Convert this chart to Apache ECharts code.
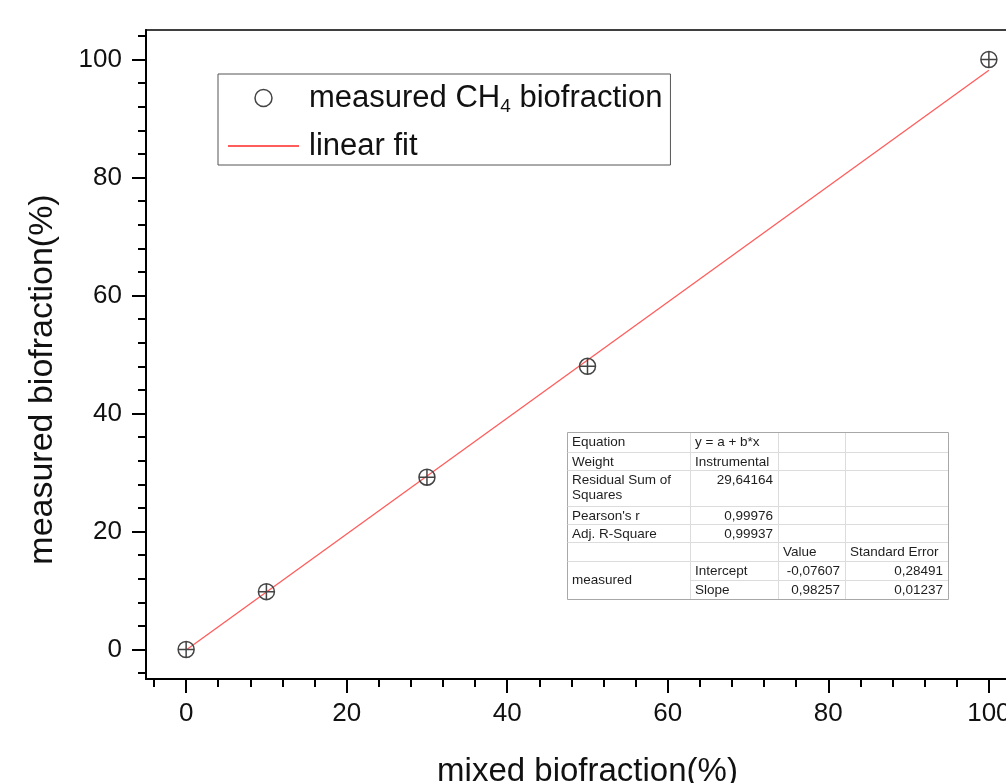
<!DOCTYPE html>
<html>
<head>
<meta charset="utf-8">
<script src="https://cdn.jsdelivr.net/npm/echarts@6/dist/echarts.min.js"></script>
<style>
  html, body { margin: 0; padding: 0; background: #fff; }
  #chart { width: 1006px; height: 783px; }
</style>
</head>
<body>
<div id="chart"></div>
<script>
// measured points (mixed %, measured %)
var measuredPoints = [[0, 0], [10, 9.8], [30, 29.2], [50, 48], [100, 100]];
// fit line end points
var fitPoints = [[0, -0.08], [100, 98.18]];

var majorTicks = [0, 20, 40, 60, 80, 100];
var minorTicks = [-4, 4, 8, 12, 16, 24, 28, 32, 36, 44, 48, 52, 56, 64, 68, 72, 76, 84, 88, 92, 96, 104];

var tableRows = [
    ['Equation', 'y = a + b*x', '', ''],
    ['Weight', 'Instrumental', '', ''],
    ['Residual Sum of\nSquares', '29,64164', '', ''],
    ["Pearson's r", '0,99976', '', ''],
    ['Adj. R-Square', '0,99937', '', ''],
    ['', '', 'Value', 'Standard Error'],
    ['measured', 'Intercept', '-0,07607', '0,28491'],
    ['', 'Slope', '0,98257', '0,01237']
];

var FONT = 'Liberation Sans, Arial, sans-serif';

var myChart = echarts.init(document.getElementById('chart'));

// table layout
function buildTable() {
    var colX = [567, 690, 778, 845, 948];
    var rowY = [432, 452, 470, 506, 524, 542, 561, 580, 599];
    var els = [];
    els.push({
        type: 'rect',
        shape: {x: colX[0] + 0.5, y: rowY[0] + 0.5, width: colX[4] - colX[0], height: rowY[8] - rowY[0]},
        style: {fill: '#fff', stroke: '#a8a8a8', lineWidth: 1},
        z: 10
    });
    for (var r = 1; r < rowY.length - 1; r++) {
        // merged "measured" cell has no line in first column
        var x1 = (r === 7) ? colX[1] : colX[0];
        els.push({
            type: 'line',
            shape: {x1: x1 + 0.5, y1: rowY[r] + 0.5, x2: colX[4], y2: rowY[r] + 0.5},
            style: {stroke: '#dcdcdc', lineWidth: 1},
            z: 11
        });
    }
    for (var c = 1; c < colX.length - 1; c++) {
        els.push({
            type: 'line',
            shape: {x1: colX[c] + 0.5, y1: rowY[0] + 1, x2: colX[c] + 0.5, y2: rowY[8]},
            style: {stroke: '#dcdcdc', lineWidth: 1},
            z: 11
        });
    }
    for (var i = 0; i < tableRows.length; i++) {
        for (var j = 0; j < 4; j++) {
            var t = tableRows[i][j];
            if (!t) continue;
            var isNum = /^-?[\d,]+$/.test(t);
            var y = rowY[i] + 3;
            var va = 'top';
            if (i === 6 && j === 0) {
                y = rowY[7];
                va = 'middle';
            }
            els.push({
                type: 'text',
                x: isNum ? colX[j + 1] - 5 : colX[j] + 5,
                y: y,
                style: {
                    text: t,
                    fill: '#1e1e1e',
                    fontSize: 13.5,
                    fontFamily: FONT,
                    lineHeight: 15,
                    align: isNum ? 'right' : 'left',
                    verticalAlign: va
                },
                z: 12
            });
        }
    }
    return els;
}

var axisCommon = {
    type: 'value',
    min: -5,
    max: 105,
    axisLine: {onZero: false, lineStyle: {color: '#000', width: 2}},
    splitLine: {show: false}
};

var option = {
    animation: false,
    backgroundColor: '#fff',
    grid: {
        left: 146,
        top: 30,
        width: 883,
        height: 649,
        outerBoundsMode: 'none',
        containLabel: false,
        show: true,
        borderColor: '#000',
        borderWidth: 1.5,
        backgroundColor: 'transparent'
    },
    legend: {
        orient: 'vertical',
        left: 218,
        top: 74,
        padding: [6, 8, 2, 9],
        itemWidth: 71,
        itemHeight: 17,
        itemGap: 13,
        borderColor: '#555',
        borderWidth: 1,
        backgroundColor: '#fff',
        data: [
            {
                name: 'measured',
                icon: 'circle',
                itemStyle: {color: 'transparent', borderColor: '#444', borderWidth: 1.5}
            },
            {
                name: 'linear fit',
                itemStyle: {color: 'rgba(0,0,0,0)', borderColor: 'rgba(0,0,0,0)', borderWidth: 0}
            }
        ],
        formatter: function (name) {
            if (name === 'measured') return 'measured CH{sub|4} biofraction';
            return name;
        },
        textStyle: {
            fontSize: 31,
            fontFamily: FONT,
            color: '#111',
            lineHeight: 34,
            padding: [0, 0, 0, 5],
            rich: {
                sub: {fontSize: 19, fontFamily: FONT, color: '#111', lineHeight: 36, verticalAlign: 'bottom'}
            }
        }
    },
    xAxis: [
        Object.assign({}, axisCommon, {
            position: 'bottom',
            name: 'mixed biofraction(%)',
            nameLocation: 'middle',
            nameGap: 76,
            nameTextStyle: {fontSize: 33, fontFamily: FONT, color: '#111'},
            axisTick: {show: true, length: 14, lineStyle: {color: '#000', width: 2}, customValues: majorTicks},
            axisLabel: {fontSize: 26, fontFamily: FONT, color: '#111', margin: 22, customValues: majorTicks}
        }),
        Object.assign({}, axisCommon, {
            position: 'bottom',
            axisLine: {show: false, onZero: false},
            axisTick: {show: true, length: 8, lineStyle: {color: '#000', width: 2}, customValues: minorTicks},
            axisLabel: {show: false}
        })
    ],
    yAxis: [
        Object.assign({}, axisCommon, {
            position: 'left',
            name: 'measured biofraction(%)',
            nameLocation: 'middle',
            nameGap: 86,
            nameTextStyle: {fontSize: 34, fontFamily: FONT, color: '#111', padding: [0, 50, 0, 0]},
            axisTick: {show: true, length: 14, lineStyle: {color: '#000', width: 2}, customValues: majorTicks},
            axisLabel: {fontSize: 26, fontFamily: FONT, color: '#111', margin: 24, customValues: majorTicks}
        }),
        Object.assign({}, axisCommon, {
            position: 'left',
            axisLine: {show: false, onZero: false},
            axisTick: {show: true, length: 8, lineStyle: {color: '#000', width: 2}, customValues: minorTicks},
            axisLabel: {show: false}
        })
    ],
    series: [
        {
            name: 'linear fit',
            type: 'line',
            data: fitPoints,
            showSymbol: false,
            symbol: 'none',
            lineStyle: {color: '#ff5c5c', width: 1.3},
            itemStyle: {color: '#ff5c5c'},
            z: 2
        },
        {
            name: 'measured',
            type: 'scatter',
            data: measuredPoints,
            symbol: 'path://M10,0 A10,10 0 1,1 -10,0 A10,10 0 1,1 10,0 Z M-10,0 L10,0 M0,-10 L0,10',
            symbolSize: 16,
            itemStyle: {color: 'rgba(0,0,0,0)', borderColor: '#444', borderWidth: 1.5, opacity: 1},
            z: 3
        }
    ],
    graphic: buildTable()
};

myChart.setOption(option);
</script>
</body>
</html>
